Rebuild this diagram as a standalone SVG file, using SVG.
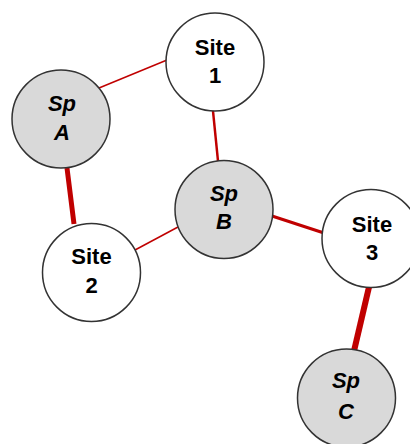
<svg xmlns="http://www.w3.org/2000/svg" width="410" height="444" viewBox="0 0 410 444">
<style>
.n{stroke:#333;stroke-width:1.5}
.site{fill:#fff}
.sp{fill:#d9d9d9}
text{font-family:"Liberation Sans",Arial,sans-serif;font-size:22px;font-weight:bold;text-anchor:middle;fill:#000}
.it{font-style:italic}
.e{stroke:#c00000;fill:none}
</style>
<rect width="410" height="444" fill="#fff"/>
<g id="connectors">
<line class="e" x1="99" y1="88" x2="167" y2="60" stroke-width="1.5"/>
<line class="e" x1="213" y1="111" x2="218" y2="161" stroke-width="2.5"/>
<line class="e" x1="67" y1="168" x2="74" y2="224" stroke-width="5"/>
<line class="e" x1="135" y1="250" x2="178" y2="227" stroke-width="1.5"/>
<line class="e" x1="272" y1="216" x2="324" y2="233" stroke-width="3"/>
<line class="e" x1="369" y1="287" x2="354" y2="351" stroke-width="6"/>
</g>
<g id="site1"><circle class="n site" cx="215" cy="62" r="49"/><text x="215" y="55">Site</text><text x="215" y="83">1</text></g>
<g id="spA"><circle class="n sp" cx="61" cy="119" r="49"/><text class="it" x="62" y="111">Sp</text><text class="it" x="62" y="140">A</text></g>
<g id="spB"><circle class="n sp" cx="224" cy="209.5" r="49"/><text class="it" x="224" y="201">Sp</text><text class="it" x="224" y="229">B</text></g>
<g id="site2"><circle class="n site" cx="91.5" cy="272.5" r="49"/><text x="91.5" y="264">Site</text><text x="91.5" y="293">2</text></g>
<g id="site3"><circle class="n site" cx="371" cy="238.5" r="49"/><text x="372" y="232">Site</text><text x="372" y="260">3</text></g>
<g id="spC"><circle class="n sp" cx="346.5" cy="398" r="49"/><text class="it" x="346" y="388">Sp</text><text class="it" x="346" y="419">C</text></g>
</svg>
